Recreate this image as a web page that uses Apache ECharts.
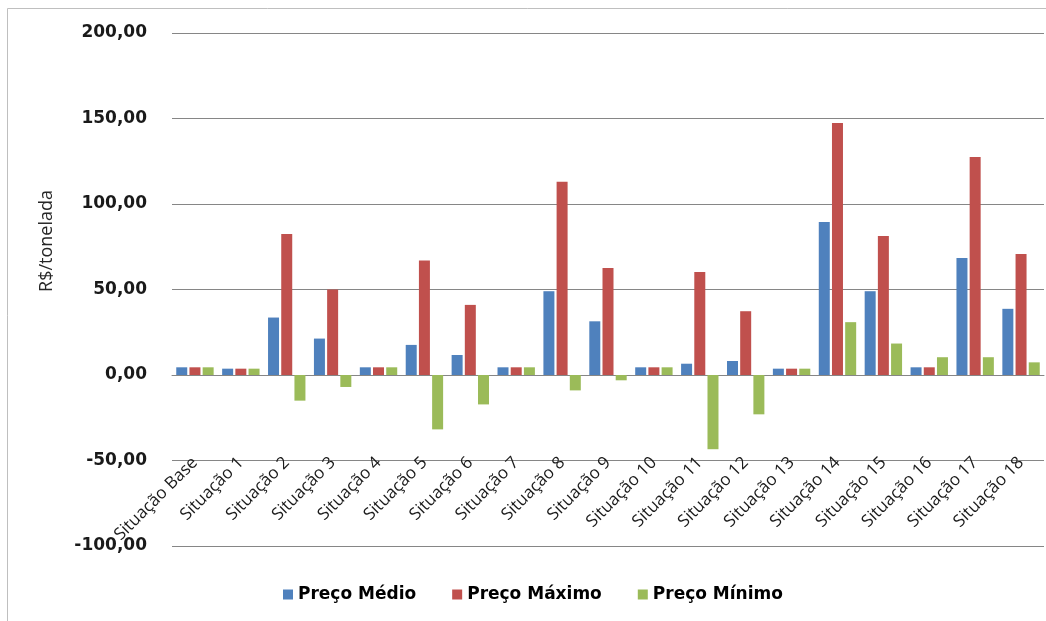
<!DOCTYPE html>
<html>
<head>
<meta charset="utf-8">
<script src="https://cdn.jsdelivr.net/npm/echarts@6/dist/echarts.min.js"></script>
<style>html,body{margin:0;padding:0;background:#fff}#c{width:1046px;height:621px}</style>
</head>
<body>
<div id="c"></div>
<script>
const categories = ['Situação Base','Situação 1','Situação 2','Situação 3','Situação 4','Situação 5','Situação 6','Situação 7','Situação 8','Situação 9','Situação 10','Situação 11','Situação 12','Situação 13','Situação 14','Situação 15','Situação 16','Situação 17','Situação 18'];
const precoMedio = [4.5,3.7,33.6,21.3,4.5,17.6,11.7,4.5,49,31.4,4.5,6.6,8.2,3.7,89.5,49,4.5,68.4,38.7];
const precoMaximo = [4.5,3.7,82.5,50,4.5,67,41,4.5,113,62.6,4.5,60.2,37.3,3.7,147.4,81.3,4.5,127.5,70.8];
const precoMinimo = [4.5,3.7,-15,-7,4.5,-31.8,-17.2,4.5,-9,-3.1,4.5,-43.4,-23,3.7,30.9,18.4,10.4,10.4,7.4];
const seriesNames = ['Preço Médio','Preço Máximo','Preço Mínimo'];
const yTitle = 'R$/tonelada';

const chart = echarts.init(document.getElementById('c'));
const colors = ['#4F81BD','#C0504D','#9BBB59'];
chart.setOption({
  animation: false,
  color: colors,
  grid: {left: 172, right: 2, top: 33, bottom: 75, outerBoundsMode: 'none', containLabel: false},
  graphic: [
    {type:'rect', shape:{x:7.5,y:8.5,width:1100,height:700}, style:{fill:'none', stroke:'#BFBFBF', lineWidth:1}, z:-1},
    {type:'text', x:47, y:241, rotation:Math.PI/2, style:{text:yTitle, font:'18px "Open Sans"', fill:'#262626', align:'center', verticalAlign:'middle'}}
  ],
  legend: {
    bottom: 13, left: 278,
    itemWidth: 10, itemHeight: 10, itemGap: 36,
    icon: 'rect',
    textStyle: {fontFamily:'"DejaVu Sans"', fontWeight:'bold', fontSize:17, color:'#000'},
    data: seriesNames
  },
  xAxis: {
    type: 'category',
    data: categories,
    axisLine: {onZero: true, lineStyle: {color:'#868686', width:1}},
    axisTick: {show: false},
    axisLabel: {rotate: 45, margin: -86, interval: 0, fontFamily:'"Open Sans"', fontSize: 17, color:'#1a1a1a'}
  },
  yAxis: {
    type: 'value', min: -100, max: 200, interval: 50,
    axisLine: {show:false}, axisTick:{show:false},
    splitLine: {lineStyle:{color:'#868686', width:1}},
    axisLabel: {margin: 25, fontFamily:'"DejaVu Sans"', fontWeight:'bold', fontSize:17, color:'#1a1a1a',
      formatter: v => v.toFixed(2).replace('.', ',')}
  },
  series: [
    {name: seriesNames[0], type:'bar', data: precoMedio, barWidth: 11, barGap: '20%'},
    {name: seriesNames[1], type:'bar', data: precoMaximo, barWidth: 11, barGap: '20%'},
    {name: seriesNames[2], type:'bar', data: precoMinimo, barWidth: 11, barGap: '20%'}
  ]
});
</script>
</body>
</html>
